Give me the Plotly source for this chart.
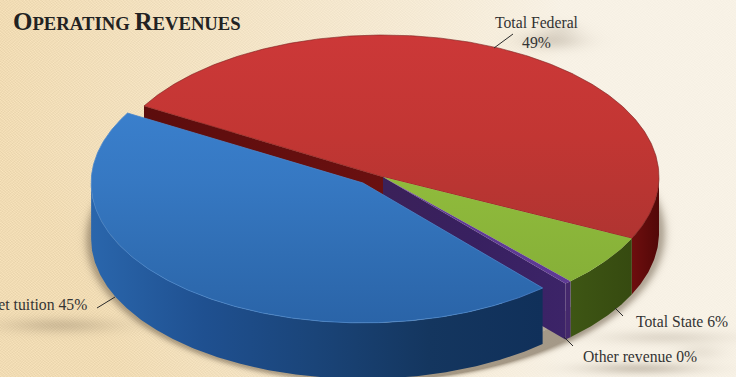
import numpy as np
import plotly.graph_objects as go

# Revenue shares, percent
categories = ["Total Federal", "Total State", "Other revenue", "Net tuition"]
values = [49, 6, 0.4, 45]
W, H = 736, 377

# Projection of the disc
CX, CY, RX, RY = 383, 177, 276, 142
DEPTH = 56
START_ANGLE = 150
BLUE_SHIFT = (-20, 6)
BLUE_SCALE = 0.985


def parchment():
    """Linen-like paper with a warm left side, soft smudges and the disc's contact shadow."""
    y, x = np.mgrid[0:H, 0:W].astype(float)
    warm = np.clip(1 - x / 560, 0, 1) ** 0.8 + 0.25 * np.clip((y - 150) / 230, 0, 1) * np.clip(1 - x / 420, 0, 1)
    warm = np.clip(warm, 0, 1)[..., None]
    pale = np.array([248, 242, 230.0])
    tan = np.array([241, 220, 180.0])
    img = pale + (tan - pale) * warm
    weave = (
        np.sin(x * 1.9 + 2 * np.sin(y * 0.37)) * np.sin(y * 2.3 + 1.5 * np.sin(x * 0.29))
        + 0.5 * np.sin(x * 2.7 + y * 0.9) * np.sin(y * 3.1 - x * 0.7)
    )
    img = img + (2 + 5 * warm) * weave[..., None]

    smudges = [(60, 325, 55, 8, 0.25), (552, 40, 30, 9, 0.22), (560, 28, 18, 7, 0.10),
               (665, 337, 60, 7, 0.16), (640, 368, 55, 6, 0.28), (700, 352, 22, 8, 0.10)]
    shade = np.zeros((H, W))
    for sx, sy, wx, wy, amount in smudges:
        shade += amount * np.exp(-((x - sx) / wx) ** 2 - ((y - sy) / wy) ** 2)
    discs = ((CX + BLUE_SHIFT[0], CY + BLUE_SHIFT[1] + DEPTH, BLUE_SCALE), (CX, CY + DEPTH, 1))
    for ex, ey, k in discs:
        d = np.sqrt(((x - ex) / (RX * k)) ** 2 + ((y - ey) / (RY * k)) ** 2)
        shade += 0.5 * np.exp(-(np.clip(d - 1, 0, None) * 38) ** 2) * (d > 0.9)
    shade = np.clip(shade, 0, 0.6)[..., None]
    img = img * (1 - shade) + np.array([110, 95, 75.0]) * shade
    return np.clip(img, 0, 255).astype(np.uint8)


def rim(a0, a1, shift=(0, 0), drop=0, scale=1):
    t = np.radians(np.linspace(a0, a1, max(2, int(abs(a1 - a0) * 2) + 1)))
    return (CX + shift[0] + scale * RX * np.cos(t),
            CY + shift[1] - scale * RY * np.sin(t) + drop)


def top_face(a0, a1, shift=(0, 0), scale=1):
    x, y = rim(a0, a1, shift, 0, scale)
    return (np.r_[CX + shift[0], x, CX + shift[0]], np.r_[CY + shift[1], y, CY + shift[1]])


def outer_wall(a0, a1, shift=(0, 0), scale=1):
    x1, y1 = rim(a0, a1, shift, 0, scale)
    x2, y2 = rim(a1, a0, shift, DEPTH, scale)
    return np.r_[x1, x2, x1[0]], np.r_[y1, y2, y1[0]]


def cut_face(angle):
    t = np.radians(angle)
    px, py = CX + RX * np.cos(t), CY - RY * np.sin(t)
    return ([CX, px, px, CX, CX], [CY, py, py + DEPTH, CY + DEPTH, CY])


def gradient(stops, kind="vertical"):
    # The y axis runs downward, so vertical stops are listed top first and flipped here
    ordered = stops[::-1] if kind == "vertical" else stops
    n = len(ordered) - 1
    return dict(type=kind, colorscale=[[i / n, c] for i, c in enumerate(ordered)])


def face(xy, fill, line=None, width=0):
    fig.add_trace(go.Scatter(
        x=xy[0], y=xy[1], mode="lines", fill="toself", fillgradient=fill,
        line=dict(color=line or "rgba(0,0,0,0)", width=width),
        hoverinfo="skip", showlegend=False))


fig = go.Figure()
fig.add_trace(go.Image(z=parchment().tolist(), x0=0.5, y0=0.5, dx=1, dy=1, hoverinfo="skip"))

# Slice boundaries, clockwise from the upper left
sweep = 360 / sum(values)
edges = [START_ANGLE]
for v in values:
    edges.append(edges[-1] - v * sweep)
federal, state, other, tuition = [(edges[i], edges[i + 1]) for i in range(4)]

# Back to front: the cut faces first, the pulled-out tuition slice last
face(cut_face(federal[0]), gradient(["#5c0d0d", "#6a1010"], "horizontal"))
face(outer_wall(0, federal[1]), gradient(["#6e0e0e", "#520808"], "horizontal"))
face(top_face(*federal), gradient(["#cc3838", "#c23633", "#b03431"]), "#7a1f1c", 0.6)

face(outer_wall(*state), gradient(["#3e5614", "#364a10"], "horizontal"))
face(top_face(*state), gradient(["#90bb3c", "#86b038"]))

face(cut_face(other[1]), gradient(["#3b2159", "#382060", "#3c2468"], "horizontal"))
face(outer_wall(*other), gradient(["#44286c", "#44286c"], "horizontal"))
face(top_face(*other), gradient(["#5e3a94", "#5e3a94"]))

blue_a0, blue_a1 = tuition[0], tuition[1]
face(outer_wall(blue_a0, -180, BLUE_SHIFT, BLUE_SCALE),
     gradient(["#2a66ac", "#1f5090", "#1a4478", "#14365f", "#10305a"], "horizontal"))
face(top_face(blue_a0, blue_a1, BLUE_SHIFT, BLUE_SCALE),
     gradient(["#3a7fcc", "#3678c2", "#306eb4", "#2a64a8"]), "#4a86cc", 0.8)

# Leader lines from the slices to their labels
leaders = [((494, 48), (513, 34)), ((615, 308), (623, 316)),
           ((564, 337), (573, 346)), ((115, 297), (97, 308))]
for (x0, y0), (x1, y1) in leaders:
    fig.add_shape(type="line", x0=x0, y0=y0, x1=x1, y1=y1,
                  line=dict(color="#2a2a2a", width=1))


def pct(i):
    return f"{round(values[i])}%"


LABEL = dict(family="Liberation Serif", size=15.7, color="#333333")
notes = [
    (537, 32, "center", f"{categories[0]}<br>{pct(0)}"),
    (634, 321, "left", f"{categories[1]} {pct(1)}"),
    (581, 356, "left", f"{categories[2]} {pct(2)}"),
    (89, 304, "right", f"{categories[3]} {pct(3)}"),
]
for x, y, anchor, text in notes:
    fig.add_annotation(x=x, y=y, text=text, showarrow=False, xanchor=anchor, yanchor="middle",
                       align=anchor, font=LABEL, xref="x", yref="y")

big = '<span style="font-size:25px">{}</span>'
small = '<span style="font-size:18.7px">{}</span>'
title = "<b>" + big.format("O") + small.format("PERATING ") + big.format("R") + small.format("EVENUES") + "</b>"
fig.add_annotation(x=11, y=21, text=title, showarrow=False, xanchor="left", yanchor="middle",
                   font=dict(family="Liberation Serif", size=25, color="#222222"))

fig.update_xaxes(range=[0, W], visible=False, fixedrange=True)
fig.update_yaxes(range=[H, 0], visible=False, fixedrange=True, autorange=False)
fig.update_layout(width=W, height=H, autosize=False, margin=dict(l=0, r=0, t=0, b=0),
                  paper_bgcolor="#f6efe0", plot_bgcolor="#f6efe0", showlegend=False)
fig.write_html("out.html", config=dict(displayModeBar=False))
